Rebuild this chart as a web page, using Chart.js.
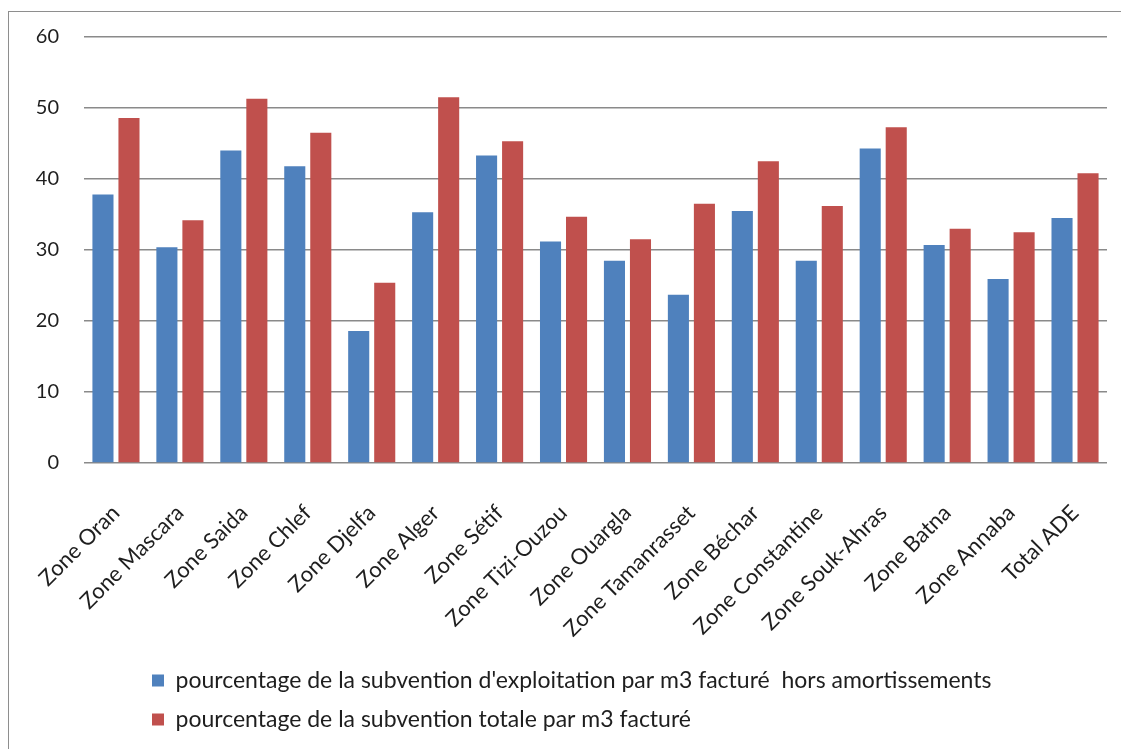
<!DOCTYPE html>
<html>
<head>
<meta charset="utf-8">
<script src="https://cdn.jsdelivr.net/npm/chart.js@4/dist/chart.umd.min.js"></script>
<style>
  html, body { margin: 0; padding: 0; background: #fff; }
  #frame {
    position: absolute; left: 8px; top: 11px; width: 1300px; height: 900px;
    border-top: 1px solid #8e8e8e; border-left: 1px solid #8e8e8e;
  }
  #c { position: absolute; left: 0; top: 0; }
</style>
</head>
<body>
<div id="frame"></div>
<canvas id="c" width="1121" height="749"></canvas>
<script>
// Zones of the ADE network
const categories = [
  'Zone Oran', 'Zone Mascara', 'Zone Saida', 'Zone Chlef', 'Zone Djelfa',
  'Zone Alger', 'Zone Sétif', 'Zone Tizi-Ouzou', 'Zone Ouargla', 'Zone Tamanrasset',
  'Zone Béchar', 'Zone Constantine', 'Zone Souk-Ahras', 'Zone Batna', 'Zone Annaba',
  'Total ADE'
];

// Operating subsidy share per billed m3, excluding depreciation (%)
const subventionExploitation = [
  37.8, 30.4, 44.0, 41.8, 18.6, 35.3, 43.3, 31.2, 28.5, 23.7,
  35.5, 28.5, 44.3, 30.7, 25.9, 34.5
];

// Total subsidy share per billed m3 (%)
const subventionTotale = [
  48.6, 34.2, 51.3, 46.5, 25.4, 51.5, 45.3, 34.7, 31.5, 36.5,
  42.5, 36.2, 47.3, 33.0, 32.5, 40.8
];

const seriesLabels = [
  "pourcentage de la subvention d'exploitation par m3 facturé  hors amortissements",
  'pourcentage de la subvention totale par m3 facturé'
];

const yMin = 0, yMax = 60, yStep = 10;

const FONT = "Lato, 'Open Sans', sans-serif";
const TEXT = '#1e1e1e';
const GRID = '#8a8a8a';

// Moves the legend rows to their left indent under the plot
const legendIndent = {
  id: 'legendIndent',
  afterLayout(chart) {
    const lg = chart.legend;
    if (!lg) return;
    lg.left += 136;
    lg.right += 136;
  }
};

new Chart(document.getElementById('c'), {
  type: 'bar',
  data: {
    labels: categories,
    datasets: [
      {
        label: seriesLabels[0],
        data: subventionExploitation,
        backgroundColor: '#4f81bd',
        borderWidth: 0
      },
      {
        label: seriesLabels[1],
        data: subventionTotale,
        backgroundColor: '#c0504d',
        borderWidth: 0
      }
    ]
  },
  options: {
    responsive: false,
    animation: false,
    devicePixelRatio: 1,
    categoryPercentage: 0.814,
    barPercentage: 0.81,
    layout: { padding: { top: 37, right: 14, bottom: 8, left: 0 } },
    plugins: {
      tooltip: { enabled: false },
      legend: {
        position: 'bottom',
        align: 'start',
        labels: {
          boxWidth: 12,
          boxHeight: 12,
          padding: 16,
          color: TEXT,
          font: { family: FONT, size: 23 }
        }
      }
    },
    scales: {
      x: {
        grid: { display: false },
        border: { display: false },
        ticks: {
          autoSkip: false,
          minRotation: 45,
          maxRotation: 45,
          padding: 29,
          color: TEXT,
          font: { family: FONT, size: 22 }
        },
        afterFit(scale) {
          scale.height = 190;
          scale.paddingLeft = 0;
          scale.paddingRight = 0;
        }
      },
      y: {
        min: yMin,
        max: yMax,
        border: { display: false },
        grid: { color: GRID, lineWidth: 1.5, drawTicks: false },
        ticks: {
          stepSize: yStep,
          padding: 25,
          color: TEXT,
          font: { family: FONT, size: 20 }
        },
        afterFit(scale) { scale.width = 84; }
      }
    }
  },
  plugins: [legendIndent]
});
</script>
</body>
</html>
